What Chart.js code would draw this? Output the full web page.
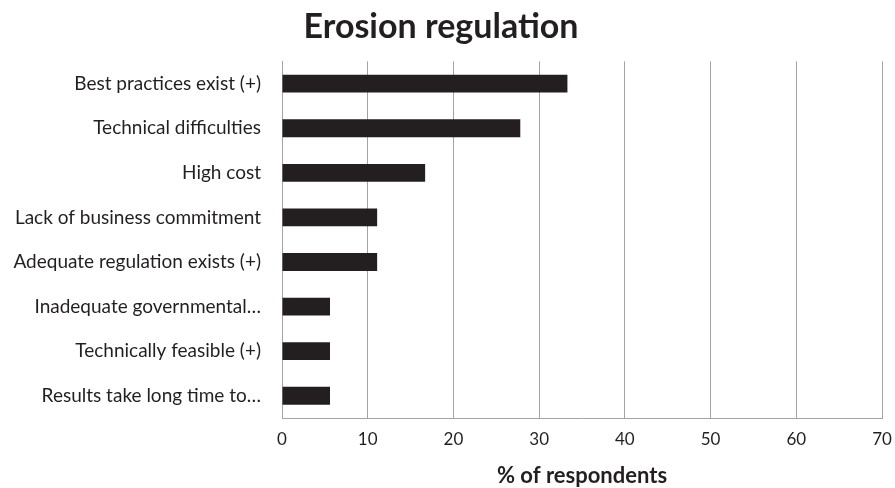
<!DOCTYPE html>
<html>
<head>
<meta charset="utf-8">
<script src="https://cdn.jsdelivr.net/npm/chart.js@4/dist/chart.umd.min.js"></script>
<style>
  html, body { margin: 0; padding: 0; background: #fff; }
  #wrap { width: 895px; height: 488px; }
</style>
</head>
<body>
<div id="wrap"><canvas id="erosionChart" width="895" height="488"></canvas></div>
<script>
// categories (top to bottom)
const categories = [
    "Best practices exist (+)",
    "Technical difficulties",
    "High cost",
    "Lack of business commitment",
    "Adequate regulation exists (+)",
    "Inadequate governmental…",
    "Technically feasible (+)",
    "Results take long time to…"
];
// % of respondents
const respondents = [33.3, 27.8, 16.7, 11.1, 11.1, 5.6, 5.6, 5.6];
const xTicks = [0, 10, 20, 30, 40, 50, 60, 70];

const gridGray = "#a3a3a3";
const textDark = "#231f20";

const ctx = document.getElementById("erosionChart").getContext("2d");
new Chart(ctx, {
    type: "bar",
    data: {
        labels: categories,
        datasets: [
            {
                label: "% of respondents",
                data: respondents,
                backgroundColor: "#231f20",
                borderWidth: 0,
                categoryPercentage: 1,
                barPercentage: 0.4,
            },
        ],
    },
    options: {
        indexAxis: "y",
        responsive: false,
        animation: false,
        layout: { padding: { left: 0, right: 13, top: 0, bottom: 0 } },
        plugins: {
            legend: { display: false },
            tooltip: { enabled: false },
            title: {
                display: true,
                text: "Erosion regulation",
                color: textDark,
                font: { family: "Lato", size: 34, weight: "bold", lineHeight: 1.1 },
                padding: { top: 8, bottom: 16 },
            },
        },
        scales: {
            x: {
                min: 0,
                max: 70,
                afterBuildTicks: (scale) => {
                    scale.ticks = xTicks.map((v) => ({ value: v }));
                },
                afterFit: (scale) => {
                    scale.height = 70;
                    // keep the plot edge at the last gridline, not pushed in by the "70" label
                    scale.paddingLeft = 0;
                    scale.paddingRight = 0;
                },
                grid: { color: gridGray, lineWidth: 1, drawTicks: false },
                border: { color: gridGray, width: 1 },
                ticks: {
                    color: textDark,
                    padding: 11,
                    font: { family: "Lato", size: 17 },
                },
                title: {
                    display: true,
                    text: "% of respondents",
                    color: textDark,
                    font: { family: "Lato", size: 22, weight: "bold", lineHeight: 1 },
                    padding: { top: 0, bottom: 1 },
                },
            },
            y: {
                afterFit: (scale) => {
                    scale.width = 282;
                },
                grid: { display: false, drawTicks: false },
                border: { color: gridGray, width: 1 },
                ticks: {
                    color: textDark,
                    padding: 21,
                    font: { family: "Lato", size: 19 },
                },
            },
        },
    },
});
</script>
</body>
</html>
